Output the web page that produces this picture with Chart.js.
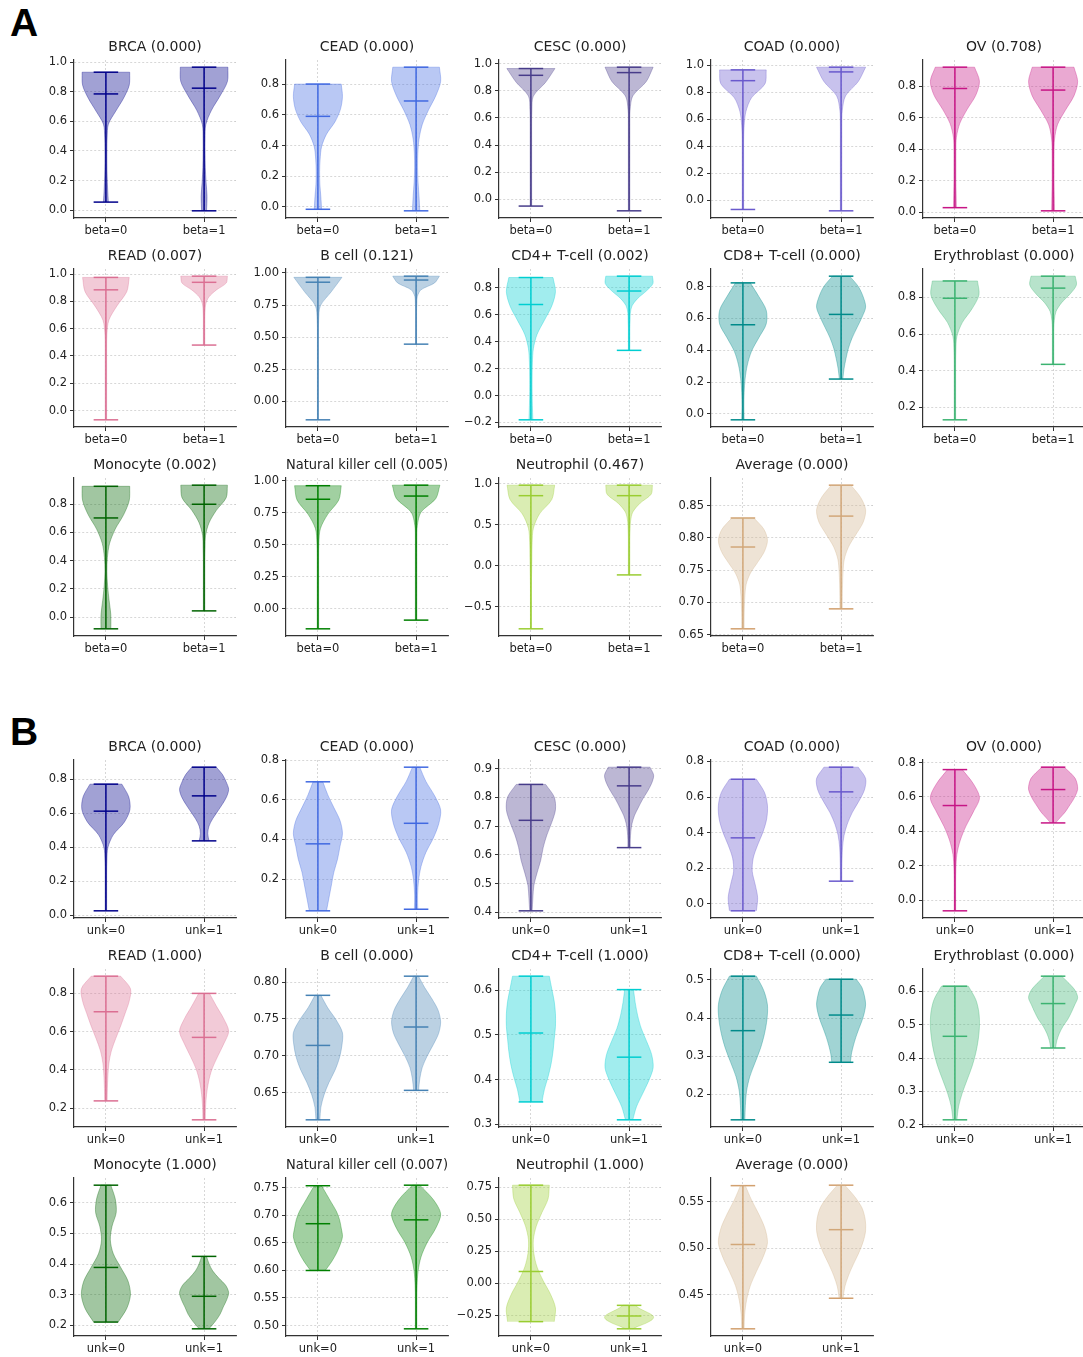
<!DOCTYPE html>
<html>
<head>
<meta charset="utf-8">
<script src="https://cdn.jsdelivr.net/npm/chart.js@4.4.1/dist/chart.umd.min.js"></script>
<style>
  body { margin:0; background:#fff; width:1083px; height:1357px; position:relative; overflow:hidden; }
  canvas { position:absolute; }
  .panel { position:absolute; font-family:'Liberation Sans', Arial, sans-serif; font-weight:bold;
           font-size:39px; line-height:1; color:#000; }
</style>
</head>
<body>
<div class="panel" style="left:10px;top:3px">A</div>
<div class="panel" style="left:10px;top:712px">B</div>
<script>
/* violin grids: panel A (beta) and panel B (unk) */
const groups = ['BRCA','CEAD','CESC','COAD','OV','READ','B cell','CD4+ T-cell','CD8+ T-cell',
  'Erythroblast','Monocyte','Natural killer cell','Neutrophil','Average'];
const pvalsA = ['0.000','0.000','0.000','0.000','0.708','0.007','0.121','0.002','0.000','0.000','0.002','0.005','0.467','0.000'];
const pvalsB = ['0.000','0.000','0.000','0.000','0.000','1.000','0.000','1.000','0.000','0.000','1.000','0.007','1.000','0.000'];
const xLabelsA = ['beta=0','beta=1'];
const xLabelsB = ['unk=0','unk=1'];

const yTicksA = [
  [0,0.2,0.4,0.6,0.8,1.0],[0,0.2,0.4,0.6,0.8],[0,0.2,0.4,0.6,0.8,1.0],[0,0.2,0.4,0.6,0.8,1.0],
  [0,0.2,0.4,0.6,0.8],[0,0.2,0.4,0.6,0.8,1.0],[0,0.25,0.5,0.75,1.0],[-0.2,0,0.2,0.4,0.6,0.8],
  [0,0.2,0.4,0.6,0.8],[0.2,0.4,0.6,0.8],[0,0.2,0.4,0.6,0.8],[0,0.25,0.5,0.75,1.0],
  [-0.5,0,0.5,1.0],[0.65,0.7,0.75,0.8,0.85]
];
const yTicksB = [
  [0,0.2,0.4,0.6,0.8],[0.2,0.4,0.6,0.8],[0.4,0.5,0.6,0.7,0.8,0.9],[0,0.2,0.4,0.6,0.8],
  [0,0.2,0.4,0.6,0.8],[0.2,0.4,0.6,0.8],[0.65,0.7,0.75,0.8],[0.3,0.4,0.5,0.6],
  [0.2,0.3,0.4,0.5],[0.2,0.3,0.4,0.5,0.6],[0.2,0.3,0.4,0.5,0.6],[0.5,0.55,0.6,0.65,0.7,0.75],
  [-0.25,0,0.25,0.5,0.75],[0.45,0.5,0.55]
];

// [violin 0, violin 1] per subplot
const minA = [[0.054,-0.005],[-0.015,-0.025],[-0.05,-0.085],[-0.07,-0.08],[0.03,0.01],[-0.068,0.48],
  [-0.145,0.445],[-0.18,0.335],[-0.037,0.219],[0.133,0.435],[-0.082,0.045],[-0.158,-0.09],[-0.768,-0.11],[0.659,0.69]];
const maxA = [[0.933,0.967],[0.80,0.91],[0.965,0.975],[0.965,0.985],[0.92,0.92],[0.976,0.985],
  [0.966,0.975],[0.875,0.885],[0.823,0.865],[0.889,0.915],[0.927,0.935],[0.961,0.965],[0.985,0.985],[0.831,0.882]];
const meanA = [[0.786,0.825],[0.59,0.69],[0.915,0.935],[0.885,0.95],[0.785,0.775],[0.885,0.94],
  [0.928,0.945],[0.675,0.775],[0.56,0.625],[0.795,0.85],[0.703,0.80],[0.855,0.88],[0.857,0.857],[0.786,0.834]];

const minB = [[0.025,0.437],[0.039,0.047],[0.405,0.625],[-0.041,0.126],[-0.062,0.449],[0.238,0.139],
  [0.613,0.653],[0.35,0.31],[0.133,0.284],[0.215,0.43],[0.211,0.189],[0.60,0.494],[-0.299,-0.355],[0.413,0.446]];
const maxB = [[0.771,0.871],[0.692,0.766],[0.845,0.905],[0.70,0.768],[0.759,0.773],[0.89,0.80],
  [0.782,0.808],[0.631,0.601],[0.51,0.502],[0.615,0.645],[0.657,0.425],[0.754,0.755],[0.765,-0.172],[0.5675,0.568]];
const meanB = [[0.612,0.702],[0.378,0.482],[0.72,0.84],[0.37,0.629],[0.55,0.643],[0.704,0.57],
  [0.714,0.739],[0.504,0.45],[0.367,0.408],[0.465,0.563],[0.389,0.295],[0.685,0.692],[0.092,-0.255],[0.504,0.52]];

// relative violin widths, 11 levels from min to max
const shapeA = [
  [[0.10,0.07,0.05,0.04,0.04,0.05,0.10,0.40,0.72,0.95,0.97],[0.10,0.12,0.08,0.05,0.04,0.04,0.07,0.30,0.65,0.95,0.97]],
  [[0.15,0.12,0.08,0.07,0.09,0.15,0.35,0.70,0.92,1.0,0.95],[0.15,0.12,0.08,0.06,0.07,0.12,0.25,0.50,0.80,1.0,0.95]],
  [[0.03,0.03,0.03,0.03,0.03,0.03,0.03,0.04,0.10,0.60,0.98],[0.03,0.03,0.03,0.03,0.03,0.03,0.03,0.04,0.15,0.70,0.98]],
  [[0.03,0.03,0.03,0.03,0.03,0.03,0.05,0.12,0.35,0.90,0.95],[0.03,0.03,0.03,0.03,0.03,0.03,0.03,0.05,0.18,0.70,1.0]],
  [[0.06,0.05,0.04,0.04,0.04,0.06,0.20,0.50,0.85,1.0,0.80],[0.06,0.05,0.04,0.04,0.04,0.06,0.18,0.50,0.85,1.0,0.85]],
  [[0.03,0.03,0.03,0.03,0.03,0.03,0.04,0.12,0.45,0.85,0.95],[0.03,0.03,0.03,0.03,0.03,0.04,0.07,0.20,0.50,0.90,0.95]],
  [[0.02,0.02,0.02,0.02,0.02,0.02,0.02,0.03,0.10,0.55,0.98],[0.02,0.02,0.02,0.02,0.02,0.02,0.03,0.05,0.20,0.75,0.95]],
  [[0.08,0.06,0.05,0.05,0.06,0.10,0.25,0.55,0.85,1.0,0.90],[0.03,0.03,0.03,0.03,0.04,0.05,0.12,0.35,0.70,0.97,0.95]],
  [[0.05,0.04,0.05,0.09,0.18,0.35,0.65,0.95,0.95,0.65,0.30],[0.07,0.12,0.20,0.30,0.45,0.65,0.85,1.0,0.90,0.70,0.35]],
  [[0.03,0.03,0.03,0.03,0.03,0.04,0.08,0.30,0.70,0.98,0.92],[0.03,0.03,0.03,0.03,0.03,0.05,0.12,0.35,0.70,0.95,0.90]],
  [[0.20,0.20,0.13,0.07,0.04,0.06,0.15,0.38,0.72,0.95,0.97],[0.03,0.03,0.03,0.03,0.03,0.04,0.06,0.20,0.50,0.90,0.95]],
  [[0.03,0.03,0.03,0.03,0.03,0.03,0.04,0.10,0.40,0.85,0.95],[0.03,0.03,0.03,0.03,0.03,0.03,0.03,0.05,0.20,0.80,0.97]],
  [[0.02,0.02,0.02,0.02,0.03,0.04,0.05,0.10,0.35,0.85,0.97],[0.03,0.03,0.03,0.03,0.03,0.04,0.06,0.15,0.45,0.90,0.95]],
  [[0.05,0.05,0.06,0.08,0.13,0.30,0.60,0.88,1.0,0.85,0.45],[0.05,0.05,0.06,0.08,0.13,0.30,0.60,0.90,1.0,0.80,0.40]]
];
const shapeB = [
  [[0.03,0.03,0.03,0.03,0.04,0.08,0.30,0.75,0.98,0.93,0.65],[0.20,0.15,0.20,0.35,0.55,0.75,0.92,1.0,0.90,0.75,0.50]],
  [[0.35,0.45,0.55,0.65,0.80,0.90,1.0,0.90,0.65,0.40,0.20],[0.07,0.06,0.10,0.20,0.40,0.70,0.92,1.0,0.75,0.40,0.15]],
  [[0.05,0.08,0.12,0.25,0.40,0.50,0.65,0.85,1.0,0.95,0.60],[0.05,0.05,0.07,0.12,0.22,0.38,0.55,0.75,0.92,1.0,0.85]],
  [[0.55,0.60,0.50,0.38,0.42,0.60,0.82,0.97,1.0,0.88,0.55],[0.03,0.03,0.04,0.06,0.12,0.25,0.45,0.72,0.95,1.0,0.70]],
  [[0.03,0.03,0.03,0.04,0.08,0.22,0.45,0.75,1.0,0.75,0.30],[0.10,0.30,0.50,0.65,0.80,0.92,1.0,0.98,0.90,0.70,0.45]],
  [[0.05,0.06,0.08,0.12,0.22,0.40,0.60,0.78,0.95,1.0,0.60],[0.05,0.06,0.10,0.18,0.32,0.55,0.80,1.0,0.80,0.50,0.22]],
  [[0.08,0.12,0.25,0.45,0.70,0.88,0.98,1.0,0.75,0.40,0.12],[0.10,0.15,0.25,0.45,0.70,0.92,1.0,0.90,0.65,0.35,0.10]],
  [[0.45,0.55,0.70,0.82,0.90,0.95,1.0,1.0,0.95,0.85,0.75],[0.15,0.30,0.55,0.80,0.98,0.92,0.72,0.50,0.35,0.25,0.18]],
  [[0.08,0.10,0.15,0.28,0.50,0.72,0.88,0.98,1.0,0.85,0.55],[0.38,0.42,0.50,0.60,0.72,0.85,0.95,1.0,0.95,0.85,0.62]],
  [[0.08,0.15,0.30,0.50,0.70,0.85,0.95,1.0,0.98,0.85,0.55],[0.10,0.15,0.25,0.40,0.60,0.75,0.88,1.0,0.90,0.65,0.35]],
  [[0.50,0.85,1.0,0.90,0.60,0.30,0.18,0.25,0.42,0.38,0.20],[0.20,0.45,0.65,0.78,0.92,1.0,0.88,0.60,0.35,0.20,0.10]],
  [[0.30,0.55,0.75,0.90,1.0,0.95,0.88,0.75,0.55,0.35,0.15],[0.03,0.03,0.03,0.04,0.08,0.20,0.45,0.80,1.0,0.70,0.15]],
  [[0.95,1.0,0.80,0.50,0.25,0.12,0.10,0.22,0.45,0.70,0.75],[0.15,0.35,0.60,0.80,0.95,1.0,0.92,0.75,0.55,0.38,0.25]],
  [[0.05,0.07,0.15,0.30,0.55,0.82,1.0,0.90,0.65,0.35,0.10],[0.08,0.15,0.30,0.50,0.72,0.90,1.0,0.98,0.85,0.55,0.15]]
];

const lineColors = ['#00008B','#4169E1','#483D8B','#6A5ACD','#C71585','#DB7093','#4682B4','#00CED1',
  '#008B8B','#3CB371','#006400','#008000','#9ACD32','#D2A06E'];
const fillColors = ['#00008B','#4169E1','#483D8B','#6A5ACD','#C71585','#DB7093','#4682B4','#00CED1',
  '#008B8B','#3CB371','#006400','#008000','#9ACD32','#D2B48C'];

// layout (px)
const AX_W = 162, AX_H = 158, Y_W = 48, TOP = 24, X_H = 24;
const colLeft = [74, 286.3, 498.6, 710.9, 923.2];
const rowTopA = [60, 269, 478];
const rowTopB = [760, 969, 1178];
const FONT = "'DejaVu Sans', sans-serif";
const TEXT = '#222';
const GRID = 'rgba(0,0,0,0.2)';
const HALF = 0.25, CAP = 0.125;

function rgba(hex, a){
  const n = parseInt(hex.slice(1), 16);
  return `rgba(${n>>16},${(n>>8)&255},${n&255},${a})`;
}
function decimals(ticks){
  return Math.max(1, ...ticks.map(t => { const s = String(t); return s.includes('.') ? s.split('.')[1].length : 0; }));
}
function fmt(v, d){ return v < 0 ? '\u2212' + Math.abs(v).toFixed(d) : v.toFixed(d); }

function seg(pts, color){
  return { data: pts, showLine:true, borderColor: color, borderWidth:1.5, pointRadius:0, fill:false, tension:0 };
}

function violinSets(pos, lo, hi, mean, w, color, fillColor){
  const n = w.length - 1;
  const ys = w.map((_, j) => lo + (hi - lo) * j / n);
  const left = w.map((v, j) => ({x: pos - v*HALF, y: ys[j]}));
  const right = w.map((v, j) => ({x: pos + v*HALF, y: ys[j]})).reverse();
  return [
    { data: [...left, left[n], right[0], ...right], showLine:true, fill:'shape', tension:0.3,
      backgroundColor: rgba(fillColor, 0.37), borderColor: rgba(fillColor, 0.42), borderWidth:0.8, pointRadius:0 },
    seg([{x:pos, y:lo}, {x:pos, y:hi}], color),
    seg([{x:pos-CAP, y:hi}, {x:pos+CAP, y:hi}], color),
    seg([{x:pos-CAP, y:lo}, {x:pos+CAP, y:lo}], color),
    seg([{x:pos-CAP, y:mean}, {x:pos+CAP, y:mean}], color)
  ];
}

function drawPanel(pvals, xLabels, yTicks, mins, maxs, means, shapes, rowTop){
  groups.forEach((g, i) => {
    const row = Math.floor(i / 5), col = i % 5;
    const color = lineColors[i], fc = fillColors[i];
    const lo = Math.min(...mins[i]), hi = Math.max(...maxs[i]);
    const pad = 0.05 * (hi - lo);
    const d = decimals(yTicks[i]);

    const cv = document.createElement('canvas');
    const W = Y_W + AX_W + Y_W, H = TOP + AX_H + X_H + 2;
    cv.width = W; cv.height = H;
    cv.style.width = W + 'px'; cv.style.height = H + 'px';
    cv.style.left = Math.round(colLeft[col] - Y_W) + 'px';
    cv.style.top = (rowTop[row] - TOP) + 'px';
    document.body.appendChild(cv);

    const datasets = [
      ...violinSets(1, mins[i][0], maxs[i][0], means[i][0], shapes[i][0], color, fc),
      ...violinSets(2, mins[i][1], maxs[i][1], means[i][1], shapes[i][1], color, fc)
    ];
    const tickFont = {family: FONT, size: 11.5};
    const gridOpts = {color: GRID, lineWidth: 0.8, tickLength: 4, tickColor: '#333', tickWidth: 1};
    const borderOpts = {display: true, color: '#333', width: 1.2, dash: [2, 2]};

    new Chart(cv, {
      type: 'scatter',
      data: { datasets },
      options: {
        responsive: false, animation: false, events: [], devicePixelRatio: 1,
        layout: { padding: { top: 2.7, left: 0, right: Y_W, bottom: 2 } },
        plugins: {
          legend: { display: false },
          tooltip: { enabled: false },
          title: { display: true, fullSize: false, text: `${g} (${pvals[i]})`, color: TEXT,
                   font: { family: FONT, size: 14, weight: 'normal' }, padding: { top: 0, bottom: 4.5 } }
        },
        scales: {
          x: {
            type: 'linear', min: 0.675, max: 2.325,
            afterBuildTicks: s => { s.ticks = [{value: 1}, {value: 2}]; },
            afterFit: s => { s.height = X_H; },
            ticks: { callback: (v, idx) => xLabels[idx], color: TEXT, font: tickFont, padding: 2, maxRotation: 0, autoSkip: false },
            grid: gridOpts, border: borderOpts
          },
          y: {
            type: 'linear', min: lo - pad, max: hi + pad,
            afterBuildTicks: s => {
              s.ticks = yTicks[i].filter(t => t >= s.min - 1e-9 && t <= s.max + 1e-9).map(t => ({value: t}));
            },
            afterFit: s => { s.width = Y_W; },
            ticks: { callback: v => fmt(v, d), color: TEXT, font: tickFont, padding: 3 },
            grid: gridOpts, border: borderOpts
          }
        }
      }
    });
  });
}

drawPanel(pvalsA, xLabelsA, yTicksA, minA, maxA, meanA, shapeA, rowTopA);
drawPanel(pvalsB, xLabelsB, yTicksB, minB, maxB, meanB, shapeB, rowTopB);
</script>
</body>
</html>
